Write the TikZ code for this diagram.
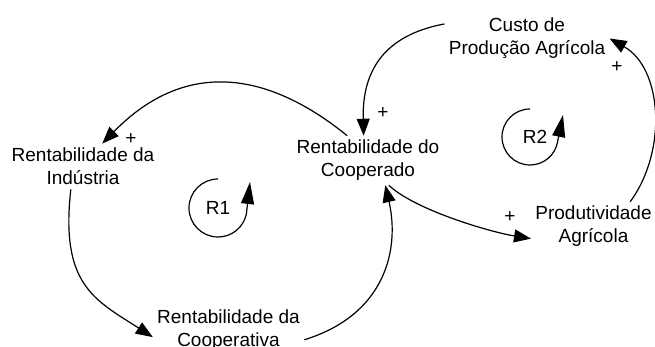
\documentclass[tikz,border=0pt]{standalone}
\usepackage{fontspec}
\setmainfont{Liberation Sans}
\usetikzlibrary{arrows.meta}

\begin{document}
\begin{tikzpicture}[x=0.5pt,y=0.5pt]
\tikzstyle{every node}+=[inner sep=2pt, align=center, font=\fontsize{9.5pt}{11.5pt}\selectfont]
\tikzstyle{link}=[black, line width=0.6pt, -{Triangle[length=8.5pt,width=6.5pt]}]
\tikzstyle{loopmark}=[black, line width=0.6pt, -{Triangle[length=11pt,width=6.5pt]}]
\useasboundingbox (0,0) rectangle (655,-347);
\draw (527,-38.5) node (custo) {Custo de\\Produção Agrícola};
\draw (368,-160.5) node (coop) {Rentabilidade do\\Cooperado};
\draw (83,-166.5) node (ind) {Rentabilidade da\\Indústria};
\draw (228.5,-330.5) node (coopva) {Rentabilidade da\\Cooperativa};
\draw (593.5,-226.5) node (prod) {Produtividade\\Agrícola};
\draw (218,-208) node (r1) {R1};
\draw (535,-137) node (r2) {R2};
\draw (131,-139) node (pInd) {+};
\draw (383,-113) node (pCoop) {+};
\draw (510,-217) node (pProd) {+};
\draw (617,-67) node (pCusto) {+};
\draw [link] (coop.130) .. controls (270,-73) and (187,-57) .. (ind.50);
\draw [link] (custo.170) .. controls (385,-35) and (362,-70) .. (coop.100);
\draw [link] (ind.242) .. controls (60,-285) and (95,-300) .. (coopva.185);
\draw [link] (coopva.-7) .. controls (385,-315) and (400,-250) .. (coop.-55);
\draw [link] (coop.-50) .. controls (415,-210) and (490,-232) .. (prod.191);
\draw [link] (prod.34) .. controls (668,-150) and (662,-68) .. (custo.0);
\draw [loopmark] (r1.center) ++(0,29) arc[start angle=90, end angle=348, radius=29] -- (250,-182);
\draw [loopmark] (r2.center) ++(-5,28) arc[start angle=90, end angle=350, radius=28] -- (563,-115);
\end{tikzpicture}
\end{document}
